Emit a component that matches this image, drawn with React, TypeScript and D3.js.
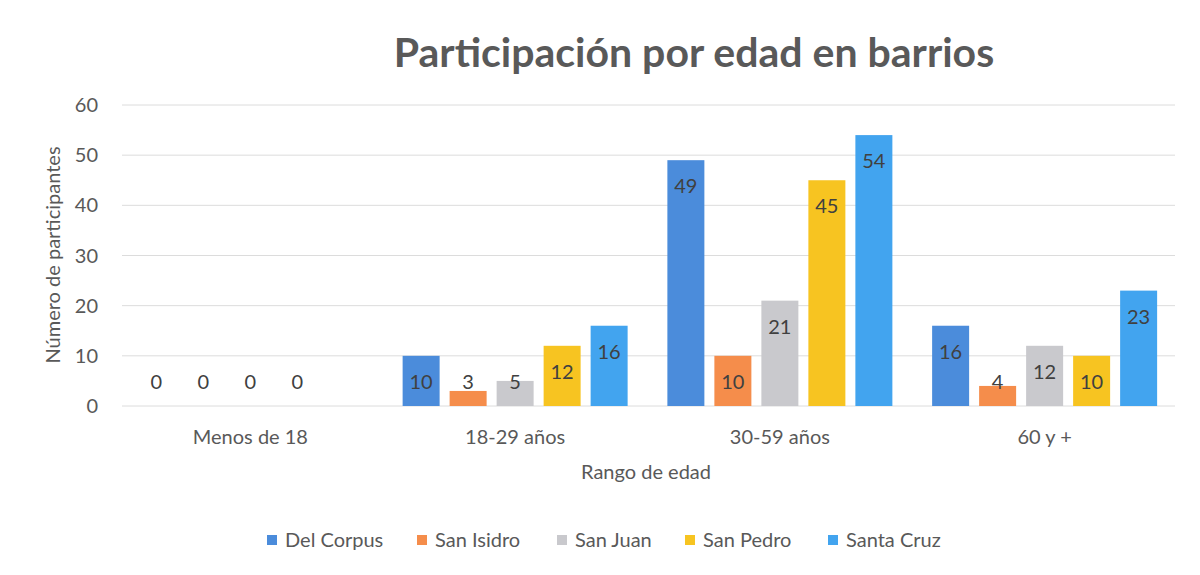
import React from "react";
import * as d3 from "d3";

const categories = ["Menos de 18", "18-29 años", "30-59 años", "60 y +"];
const seriesNames = ["Del Corpus", "San Isidro", "San Juan", "San Pedro", "Santa Cruz"];
const delCorpus = [0, 10, 49, 16];
const sanIsidro = [0, 3, 10, 4];
const sanJuan = [0, 5, 21, 12];
const sanPedro = [0, 12, 45, 10];
const santaCruz: (number | null)[] = [null, 16, 54, 23];
const yTicks = [0, 10, 20, 30, 40, 50, 60];
const colors = ["#4b8cdb", "#f58d4b", "#c9c9cd", "#f7c421", "#42a4ef"];

const seriesValues: (number | null)[][] = [delCorpus, sanIsidro, sanJuan, sanPedro, santaCruz];

const W = 1200;
const H = 575;
const FONT = "Lato, 'Open Sans', sans-serif";

export default function App() {
  const x = d3.scaleBand<string>().domain(categories).range([118, 1177]).paddingInner(0).paddingOuter(0);
  const y = d3.scaleLinear().domain([0, 60]).range([406, 105]);
  const step = 47;
  const barW = 37;
  const inner = d3
    .scaleBand<string>()
    .domain(seriesNames)
    .range([-(step * 5) / 2, (step * 5) / 2]);

  const legendX = [272, 422, 562, 690, 833];

  return (
    <div style={{ margin: -8 }}>
      <svg width={W} height={H} style={{ display: "block", background: "#fff" }}>
        <rect x={4} y={1} width={1190} height={570} fill="#fff" stroke="#e3e3e3" strokeWidth={1} />
        <text
          x={694}
          y={67}
          textAnchor="middle"
          fontFamily={FONT}
          fontWeight={700}
          fontSize={41}
          fill="#595959"
        >
          Participación por edad en barrios
        </text>
        {yTicks.map((t) => (
          <g key={t}>
            <line x1={122} x2={1175} y1={y(t)} y2={y(t)} stroke="#dcdcdc" strokeWidth={1} />
            <text
              x={98}
              y={y(t)}
              dy="0.35em"
              textAnchor="end"
              fontFamily={FONT}
              fontSize={20}
              fill="#595959"
            >
              {t}
            </text>
          </g>
        ))}
        <text
          transform={`translate(53,255) rotate(-90)`}
          textAnchor="middle"
          dy="0.35em"
          fontFamily={FONT}
          fontSize={20}
          fill="#595959"
        >
          Número de participantes
        </text>
        {categories.map((c, ci) => (
          <g key={c}>
            {seriesNames.map((s, si) => {
              const v = seriesValues[si][ci];
              if (v === null || v === undefined) return null;
              const cx = (x(c) as number) + x.bandwidth() / 2 + (inner(s) as number) + inner.bandwidth() / 2;
              const top = y(v);
              const labelY = Math.min(top + 26, y(0) - 24);
              return (
                <g key={s}>
                  {v > 0 && (
                    <rect x={cx - barW / 2} y={top} width={barW} height={y(0) - top} fill={colors[si]} />
                  )}
                  <text
                    x={cx}
                    y={labelY}
                    dy="0.35em"
                    textAnchor="middle"
                    fontFamily={FONT}
                    fontSize={20}
                    fill="#404040"
                  >
                    {v}
                  </text>
                </g>
              );
            })}
            <text
              x={(x(c) as number) + x.bandwidth() / 2}
              y={437}
              dy="0.35em"
              textAnchor="middle"
              fontFamily={FONT}
              fontSize={20}
              fill="#595959"
            >
              {c}
            </text>
          </g>
        ))}
        <text x={646} y={472} dy="0.35em" textAnchor="middle" fontFamily={FONT} fontSize={20} fill="#595959">
          Rango de edad
        </text>
        {seriesNames.map((s, i) => (
          <g key={s}>
            <rect x={legendX[i] - 5} y={535} width={10} height={10} fill={colors[i]} />
            <text x={legendX[i] + 13} y={540} dy="0.35em" fontFamily={FONT} fontSize={20} fill="#595959">
              {s}
            </text>
          </g>
        ))}
      </svg>
    </div>
  );
}
